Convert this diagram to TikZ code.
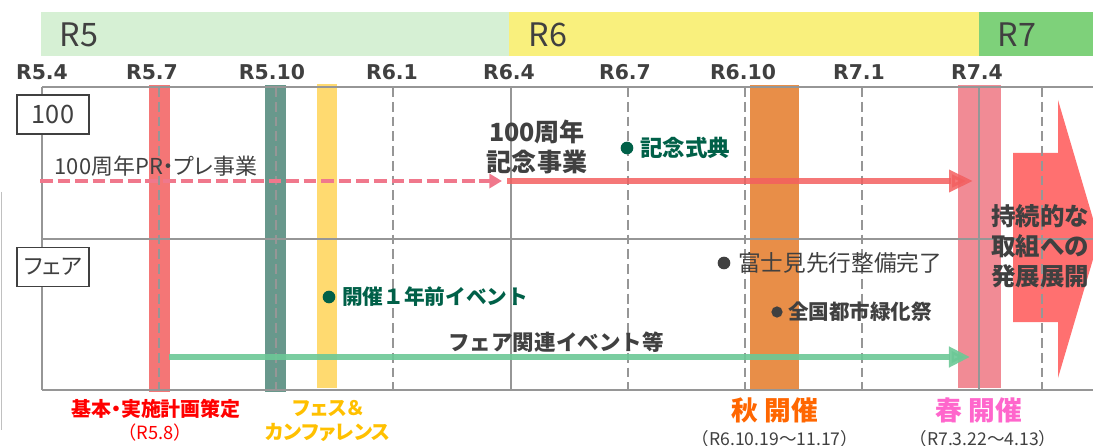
\documentclass[tikz,border=0pt]{standalone}
\usepackage{fontspec}
\setmainfont{Noto Sans CJK JP}
\newfontfamily\jpprop{Noto Sans CJK JP}[RawFeature=+palt]
\newfontfamily\datefont{DejaVu Sans}
\usepackage{tikz}
\usetikzlibrary{arrows.meta}
\usetikzlibrary{calc}

\definecolor{bandfive}{RGB}{214,240,212}
\definecolor{bandsix}{RGB}{249,240,125}
\definecolor{bandseven}{RGB}{126,209,122}
\definecolor{textgray}{RGB}{64,64,64}
\definecolor{gridgray}{RGB}{150,150,150}
\definecolor{planred}{RGB}{244,118,118}
\definecolor{festteal}{RGB}{104,152,140}
\definecolor{festyellow}{RGB}{255,218,112}
\definecolor{autumnorange}{RGB}{232,142,72}
\definecolor{springpink}{RGB}{241,139,149}
\definecolor{bigarrow}{RGB}{255,112,112}
\definecolor{memred}{RGB}{243,95,95}
\definecolor{predash}{RGB}{240,120,140}
\definecolor{fairgreen}{RGB}{108,200,150}
\definecolor{eventgreen}{RGB}{0,96,72}
\definecolor{redlabel}{RGB}{255,0,0}
\definecolor{feslabel}{RGB}{255,192,0}
\definecolor{autumnlabel}{RGB}{255,102,0}
\definecolor{springlabel}{RGB}{255,102,204}

\newcommand{\fsz}[2]{\fontsize{#1}{#2}\selectfont}

\begin{document}
\begin{tikzpicture}[x=0.025cm,y=-0.025cm,
        datelabel/.style={font=\datefont\bfseries\fsz{14.5}{17},text=textgray},
        yearlabel/.style={font=\fsz{23}{26},text=textgray},
        rowbox/.style={draw=textgray,fill=white,line width=1pt,minimum width=1.8cm,minimum height=0.98cm,inner sep=0pt,text=textgray},
        gridsolid/.style={gridgray,line width=1.1pt},
        griddash/.style={gridgray,line width=1pt,dash pattern=on 7pt off 3.5pt},
        eventdot/.style={circle,fill=#1,inner sep=0pt,minimum size=9pt},
        eventtext/.style={anchor=west,inner sep=0pt,text=#1},
        bottomlabel/.style={font=\jpprop\bfseries\fsz{14.2}{17},text=#1,align=center}
    ]
                    \useasboundingbox (0,0) rectangle (1093,446);
                    \clip (0,0) rectangle (1093,446);
                    \fill[bandfive] (41,12) rectangle (509,56);
                    \fill[bandsix] (509,12) rectangle (979,56);
                    \fill[bandseven] (979,12) rectangle (1093,56);
                    \node[yearlabel] (yfive) at (79,35) {R5};
                    \node[yearlabel] (ysix) at (548,35) {R6};
                    \node[yearlabel] (yseven) at (1017,35) {R7};
                    \foreach \xx/\lbl [count=\i] in {42/R5.4,152/R5.7,272/R5.10,392/R6.1,509/R6.4,625/R6.7,743/R6.10,859/R7.1,977/R7.4}
                        \node[datelabel] (date\i) at (\xx,72) {\lbl};
                    \fill[planred] (149,85) rectangle (170,392);
                    \fill[festteal] (265,85) rectangle (286,392);
                    \fill[festyellow] (317,84) rectangle (337,388);
                    \fill[autumnorange] (750,85) rectangle (799,390);
                    \fill[springpink] (958,85) rectangle (1001,388);
                    \fill[bigarrow] (1013,153) -- (1058,153) -- (1058,100) -- (1099,239) -- (1058,378) -- (1058,322) -- (1013,322) -- cycle;
                    \draw[gridsolid] (42,87) -- (1093,87);
                    \draw[gridsolid] (42,239) -- (1093,239);
                    \draw[gridsolid] (42,390) -- (1093,390);
                    \foreach \xx in {42,511,979}
                        \draw[gridsolid] (\xx,87) -- (\xx,390);
                    \foreach \xx in {159,276,393,628,745,862,1042}
                        \draw[griddash] (\xx,87) -- (\xx,390);
                    \draw[gridgray!60,line width=0.8pt] (1.5,192) -- (1.5,430);
                    \coordinate (preS) at (40,181);
                    \coordinate (preE) at (502,181);
                    \coordinate (memS) at (507,181);
                    \coordinate (memE) at (973,181);
                    \coordinate (fairS) at (169,357);
                    \coordinate (fairE) at (970,357);
                    \draw[predash,line width=3.5pt,dash pattern=on 9pt off 3.5pt,-{Triangle[length=9pt,width=10pt]}] (preS) -- (preE);
                    \draw[memred,opacity=0.85,line width=4.3pt,-{Triangle[length=17pt,width=15pt]}] (memS) -- (memE);
                    \draw[fairgreen,opacity=0.9,line width=4.3pt,-{Triangle[length=15pt,width=14pt]}] (fairS) -- (fairE);
                    \node[rowbox,font=\fsz{18}{20}] (hundred) at (53,114.5) {100};
                    \node[rowbox,font=\jpprop\fsz{16}{20}] (fair) at (53,267) {フェア};
                    \node[font=\jpprop\fsz{15.6}{18},text=textgray] (prelbl) at (156,166) {100周年PR・プレ事業};
                    \node[font=\bfseries\fsz{17.8}{21.3},text=textgray,align=center] (memlbl) at (537,147) {100周年\\記念事業};
                    \node[eventdot=eventgreen] (ceremonydot) at (627,148) {};
                    \node[eventtext=eventgreen,font=\bfseries\fsz{16}{19}] (ceremony) at (640,148) {記念式典};
                    \node[eventdot=eventgreen] (yearbeforedot) at (329,297) {};
                    \node[eventtext=eventgreen,font=\bfseries\fsz{14.7}{18}] (yearbefore) at (342,297) {開催１年前イベント};
                    \node[eventdot=textgray] (fujimidot) at (724,263) {};
                    \node[eventtext=textgray,font=\fsz{16.1}{19}] (fujimi) at (738,263) {富士見先行整備完了};
                    \node[eventdot=textgray,minimum size=8pt] (greenfestdot) at (777,312) {};
                    \node[eventtext=textgray,font=\bfseries\fsz{14.6}{18}] (greenfest) at (788,312) {全国都市緑化祭};
                    \node[font=\bfseries\fsz{15.3}{18},text=textgray] (fairlbl) at (556,342) {フェア関連イベント等};
                    \node[bottomlabel=redlabel] (planlbl) at (156,409) {基本・実施計画策定};
                    \node[font=\fsz{13}{16},text=redlabel] (plandate) at (155,433) {（R5.8）};
                    \node[bottomlabel=feslabel] (feslbl) at (328,421) {フェス＆\\カンファレンス};
                    \node[font=\bfseries\fsz{19}{22},text=autumnlabel] (autumn) at (775,410) {秋 開催};
                    \node[font=\fsz{12.5}{15},text=textgray] (autumndate) at (775,439) {（R6.10.19～11.17）};
                    \node[font=\bfseries\fsz{19}{22},text=springlabel] (spring) at (979,410) {春 開催};
                    \node[font=\fsz{12.5}{15},text=textgray] (springdate) at (983,439) {（R7.3.22～4.13）};
                    \node[anchor=west,inner sep=0pt,font=\bfseries\fsz{17.4}{21.3},text=textgray,align=left] (future) at (991,246) {持続的な\\取組への\\発展展開};
                \end{tikzpicture}
\end{document}
